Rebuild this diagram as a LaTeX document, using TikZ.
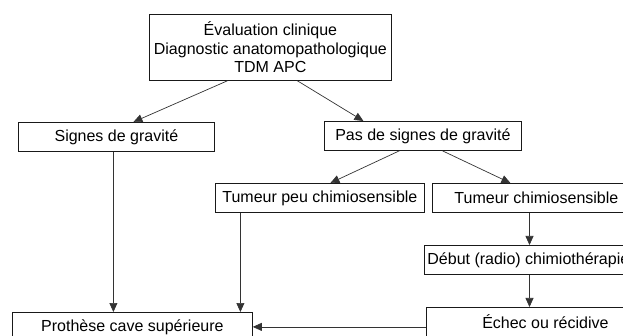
\documentclass[tikz,border=0pt]{standalone}
\usepackage{fontspec}
\setmainfont{Liberation Sans}
\usetikzlibrary{arrows.meta}
\begin{document}
\begin{tikzpicture}[x=1pt,y=-1pt,
 box/.style={draw=black!90, line width=0.8pt, font=\fontsize{16}{18.5}\selectfont, inner sep=0pt, align=center, anchor=north west, minimum height=29pt},
 arr/.style={-{Triangle[length=9pt,width=8pt]}, line width=0.7pt, draw=black!80}]
\useasboundingbox (0,0) rectangle (623,336);
\clip (0,0) rectangle (623,336);
\node[box, minimum width=242pt, minimum height=66pt] (top) at (149,14) {Évaluation clinique\\Diagnostic anatomopathologique\\TDM APC};
\node[box, minimum width=196pt] (sig) at (18,122) {Signes de gravité};
\node[box, minimum width=197pt] (pas) at (324,121) {Pas de signes de gravité};
\node[box, minimum width=209pt] (peu) at (215,183) {Tumeur peu chimiosensible};
\node[box, minimum width=208pt] (chi) at (432,183) {Tumeur chimiosensible};
\node[box, inner xsep=3pt] (deb) at (424,245) {Début (radio) chimiothérapie};
\node[box, minimum width=238pt] (ech) at (426,307) {Échec ou récidive};
\node[box, minimum width=240pt] (pro) at (12,312) {Prothèse cave supérieure};
\draw[arr] ([xshift=-43pt]top.south) -- ([xshift=17pt]sig.north);
\draw[arr] ([xshift=27pt]top.south) -- ([xshift=-59.5pt]pas.north);
\draw[arr] ([xshift=-23.5pt]pas.south) -- ([xshift=10.5pt]peu.north);
\draw[arr] ([xshift=19.5pt]pas.south) -- ([xshift=-26pt]chi.north);
\draw[arr] ([xshift=-3pt]sig.south) -- ([xshift=-3pt]sig.south |- pro.north);
\draw[arr] ([xshift=-79.5pt]peu.south) -- ([xshift=-79.5pt]peu.south |- pro.north);
\coordinate (cx) at (529.5,0);
\draw[arr] (chi.south -| cx) -- (deb.north -| cx);
\draw[arr] (deb.south -| cx) -- (ech.north -| cx);
\draw[arr] (ech.west |- pro.east) -- (pro.east);
\end{tikzpicture}
\end{document}
